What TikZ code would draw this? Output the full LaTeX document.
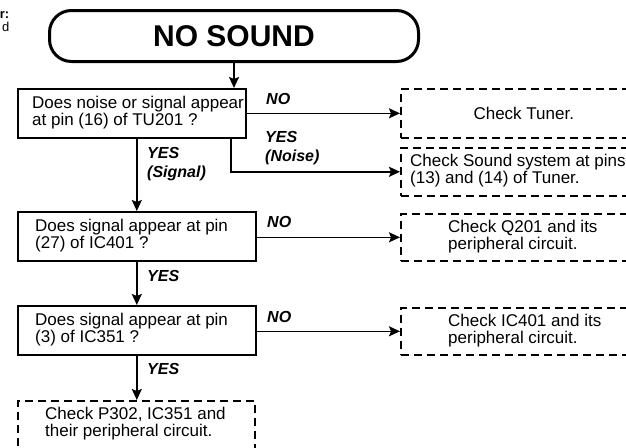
\documentclass[tikz,border=0pt]{standalone}
\usepackage{fontspec}
\setmainfont{Liberation Sans}
\usetikzlibrary{arrows.meta}
\tikzset{
  x=1pt, y=-1pt,
  txt/.style={font=\fontsize{17}{17}\selectfont, inner sep=0pt, align=left, anchor=west},
  qbox/.style={draw, line width=1.6pt, inner sep=0pt, minimum height=49pt, anchor=north west},
  dbox/.style={draw, line width=1.6pt, dash pattern=on 8pt off 5pt, inner sep=0pt, minimum height=49pt, anchor=north west},
  arr/.style={line width=1.6pt, -{Stealth[length=11pt,width=10pt,inset=2pt]}},
  lbl/.style={font=\fontsize{16}{19}\selectfont\bfseries\itshape, inner sep=0pt, anchor=west, align=left},
}
\begin{document}
\begin{tikzpicture}
\useasboundingbox (0,0) rectangle (626,447);
\clip (0,0) rectangle (626,447);
% cut-off fragments
\node[font=\fontsize{13}{13}\selectfont\bfseries, anchor=east, inner sep=0pt] (fa) at (9.5,15) {r:};
\node[font=\fontsize{13}{13}\selectfont, anchor=east, inner sep=0pt] (fb) at (9.5,27) {d};
% terminal
\node[draw, line width=3pt, rounded corners=22pt, minimum width=369pt, minimum height=51pt, inner sep=0pt,
      font=\fontsize{30}{30}\selectfont\bfseries, anchor=north west] (term) at (48,9) {NO SOUND};
% question boxes
\node[qbox, minimum width=228pt] (q1) at (17,88) {};
\node[qbox, minimum width=238pt] (q2) at (17,211) {};
\node[qbox, minimum width=238pt] (q3) at (17,305) {};
\node[txt] (q1t) at (32,112.5) {Does noise or signal appear\\at pin (16) of TU201 ?};
\node[txt] (q2t) at (35,235.5) {Does signal appear at pin\\(27) of IC401 ?};
\node[txt] (q3t) at (35,329.5) {Does signal appear at pin\\(3) of IC351 ?};
% result boxes
\node[dbox, minimum width=246pt] (tuner) at (400,88) {};
\node[dbox, minimum width=246pt, minimum height=48pt] (sound) at (400,147) {};
\node[dbox, minimum width=246pt, minimum height=47pt] (q201) at (400,213) {};
\node[dbox, minimum width=246pt, minimum height=47pt] (ic401) at (400,307) {};
\node[dbox, minimum width=237pt, minimum height=48pt] (fin) at (17,400) {};
\node[txt, anchor=center] (tunert) at (tuner.center) {Check Tuner.};
\node[txt] (soundt) at (410,171) {Check Sound system at pins\\(13) and (14) of Tuner.};
\node[txt] (q201t) at (448,236.5) {Check Q201 and its\\peripheral circuit.};
\node[txt] (ic401t) at (448,330.5) {Check IC401 and its\\peripheral circuit.};
\node[txt] (fint) at (45,424) {Check P302, IC351 and\\their peripheral circuit.};
% connectors
\draw[arr] (term.south) -- (term.south |- q1.north);
\draw[arr] (tuner.west -| q1.east) -- (tuner.west);
\draw[arr] ([xshift=99pt]q1.south) |- (sound.west);
\draw[arr] (q2.north |- q1.south) -- (q2.north);
\draw[arr] (q201.west -| q2.east) -- (q201.west);
\draw[arr] (q2.south) -- (q3.north);
\draw[arr] (ic401.west -| q3.east) -- (ic401.west);
\draw[arr] (q3.south) -- (q3.south |- fin.north);
% labels
\node[lbl] (l1) at (266,99) {NO};
\node[lbl, anchor=north west] (l2) at (265,131) {YES\\(Noise)};
\node[lbl, anchor=north west] (l3) at (147,147) {YES\\(Signal)};
\node[lbl] (l4) at (267,222) {NO};
\node[lbl] (l5) at (147,276) {YES};
\node[lbl] (l6) at (267,317) {NO};
\node[lbl] (l7) at (147,369) {YES};
\end{tikzpicture}
\end{document}
